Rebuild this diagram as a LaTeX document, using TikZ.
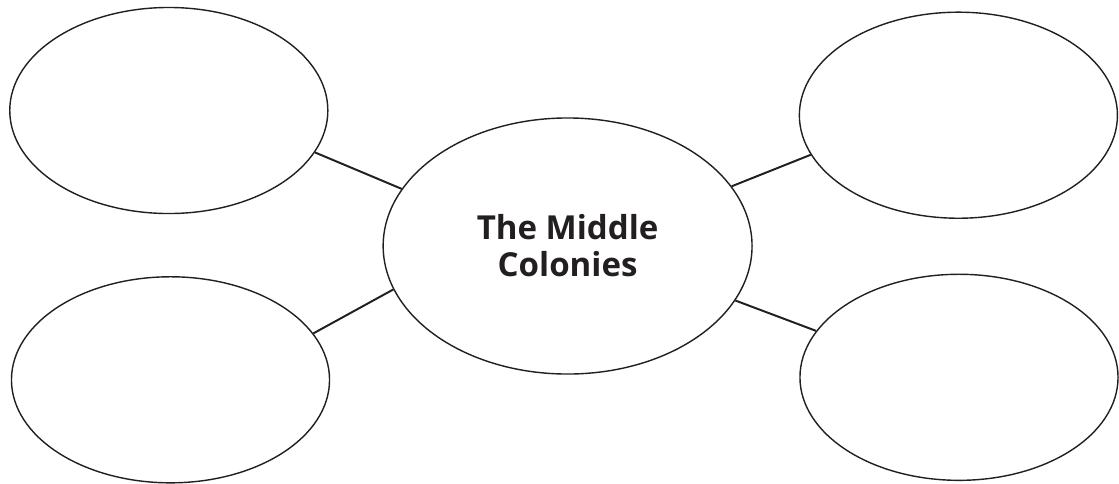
\documentclass[tikz,border=0pt]{standalone}
\usepackage{fontspec}
\usepackage{xcolor}
\usepackage{tikz}
\usetikzlibrary{shapes.geometric}
\setsansfont{Open Sans}
\definecolor{InkDark}{HTML}{231F20}

\begin{document}
\begin{tikzpicture}[x=0.025cm,y=-0.025cm,
    bubble/.style={ellipse, draw=InkDark, line width=1pt, inner sep=0pt,
      minimum width=7.95cm, minimum height=5.15cm},
    hub/.style={ellipse, draw=InkDark, line width=1pt, inner sep=0pt,
      minimum width=9.22cm, minimum height=6.4cm,
      font=\sffamily\bfseries\fontsize{23.5}{26.3}\selectfont, text=InkDark, align=center},
    spoke/.style={draw=InkDark, line width=1.4pt}]
        \useasboundingbox (0,0) rectangle (1119,483);
        \node[hub]    (middle) at (567.6,246.0) {The Middle\\Colonies};
        \node[bubble] (nw) at (168.8,110.5) {};
        \node[bubble] (sw) at (170.5,379.8) {};
        \node[bubble] (ne) at (958.4,115.2) {};
        \node[bubble] (se) at (959.0,377.3) {};
        \draw[spoke] (nw.-16.2)  -- (middle.161.3);
        \draw[spoke] (sw.18.3)   -- (middle.194.8);
        \draw[spoke] (ne.195.2)  -- (middle.20.7);
        \draw[spoke] (se.162.9)  -- (middle.-18.6);
      \end{tikzpicture}
\end{document}
